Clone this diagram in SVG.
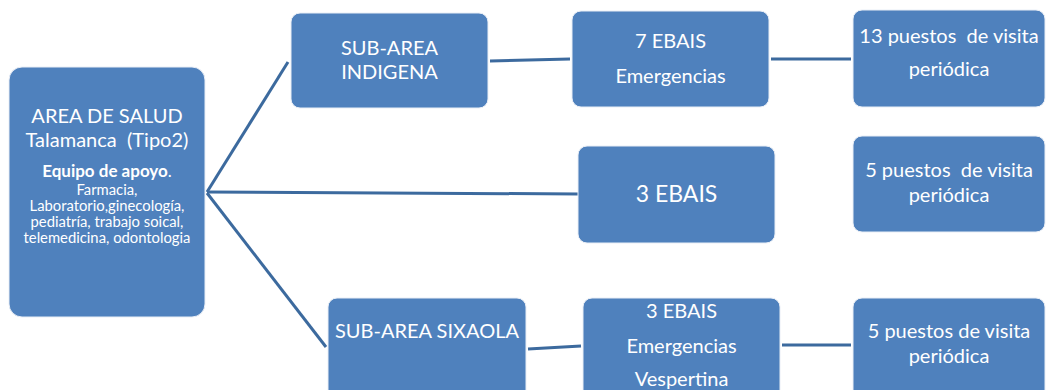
<svg xmlns="http://www.w3.org/2000/svg" width="1047" height="390" viewBox="0 0 1047 390">
<style>
.box{fill:#4F81BD;stroke:#e9eef6;stroke-width:1}
.t{font-family:Lato,"Liberation Sans",sans-serif;fill:#ffffff;text-anchor:middle;white-space:pre}
.m{font-size:20px}
.b{font-size:23px}
.s{font-size:14.8px}
.e{font-size:17px;font-weight:bold}
.c{stroke:#3C6A9E;stroke-width:3;fill:none}
</style>
<rect width="1047" height="390" fill="#ffffff"/>
<g id="connectors">
<line class="c" x1="207" y1="192" x2="288" y2="62"/>
<line class="c" x1="207" y1="192" x2="579" y2="194"/>
<line class="c" x1="207" y1="193" x2="326" y2="347"/>
<line class="c" x1="490" y1="61" x2="570" y2="59"/>
<line class="c" x1="771" y1="59" x2="851" y2="59"/>
<line class="c" x1="528" y1="349" x2="581" y2="346"/>
<line class="c" x1="782" y1="345" x2="851" y2="345"/>
</g>
<g id="area-salud">
<rect class="box" x="9" y="67" width="196" height="250" rx="13"/>
<text class="t m" x="107" y="123">AREA DE SALUD</text>
<text class="t m" x="107" y="147" xml:space="preserve" font-size="21">Talamanca  (Tipo2)</text>
<text class="t e" x="107" y="177">Equipo de apoyo<tspan font-weight="normal">.</tspan></text>
<text class="t s" x="107" y="195">Farmacia,</text>
<text class="t s" x="107" y="211">Laboratorio,ginecología,</text>
<text class="t s" x="107" y="227">pediatría, trabajo soical,</text>
<text class="t s" x="107" y="243">telemedicina, odontologia</text>
</g>
<g id="sub-indigena">
<rect class="box" x="291" y="13" width="197" height="95" rx="9"/>
<text class="t m" x="389.5" y="55">SUB-AREA</text>
<text class="t m" x="389.5" y="79">INDIGENA</text>
</g>
<g id="ebais-7">
<rect class="box" x="572" y="11" width="197" height="96" rx="9"/>
<text class="t m" x="670.5" y="48">7 EBAIS</text>
<text class="t m" x="670.5" y="83">Emergencias</text>
</g>
<g id="puestos-13">
<rect class="box" x="853" y="10" width="192" height="97" rx="9"/>
<text class="t m" x="949" y="43" xml:space="preserve">13 puestos  de visita</text>
<text class="t m" x="949" y="76">periódica</text>
</g>
<g id="ebais-3">
<rect class="box" x="578" y="146" width="197" height="97" rx="9"/>
<text class="t b" x="676.5" y="202">3 EBAIS</text>
</g>
<g id="puestos-5a">
<rect class="box" x="853" y="136" width="192" height="96" rx="9"/>
<text class="t m" x="949" y="177" xml:space="preserve">5 puestos  de visita</text>
<text class="t m" x="949" y="202">periódica</text>
</g>
<g id="sub-sixaola">
<rect class="box" x="328" y="298" width="198" height="110" rx="9"/>
<text class="t m" x="427" y="338">SUB-AREA SIXAOLA</text>
</g>
<g id="ebais-3b">
<rect class="box" x="583" y="298" width="197" height="110" rx="9"/>
<text class="t m" x="681.5" y="318">3 EBAIS</text>
<text class="t m" x="681.5" y="353">Emergencias</text>
<text class="t m" x="681.5" y="386">Vespertina</text>
</g>
<g id="puestos-5b">
<rect class="box" x="853" y="298" width="192" height="110" rx="9"/>
<text class="t m" x="949" y="338">5 puestos de visita</text>
<text class="t m" x="949" y="363">periódica</text>
</g>
</svg>
